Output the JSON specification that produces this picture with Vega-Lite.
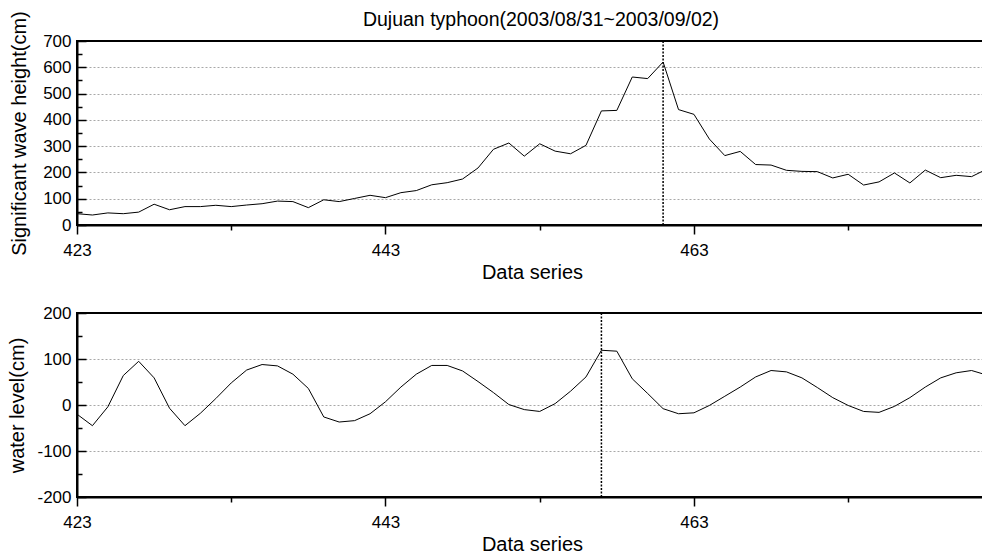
{
  "$schema": "https://vega.github.io/schema/vega-lite/v6.json",
  "padding": {"left": 6, "top": 9, "right": 0, "bottom": 0},
  "spacing": 20,
  "config": {
    "font": "Liberation Sans",
    "view": {"stroke": "black", "strokeWidth": 2},
    "axis": {
      "labelFont": "Liberation Sans", "titleFont": "Liberation Sans",
      "labelFontSize": 17, "titleFontSize": 20, "titleFontWeight": "normal",
      "labelColor": "black", "titleColor": "black",
      "domainColor": "black", "domainWidth": 2,
      "tickColor": "black", "tickWidth": 1.5,
      "labelOverlap": false, "labelFlush": false
    },
    "title": {"font": "Liberation Sans", "fontSize": 19.5, "fontWeight": "normal", "color": "black"}
  },
  "datasets": {
    "series": [
      {"x": 423, "wave": 43, "level": -20},
      {"x": 424, "wave": 38, "level": -45},
      {"x": 425, "wave": 46, "level": -4},
      {"x": 426, "wave": 43, "level": 64},
      {"x": 427, "wave": 49, "level": 95},
      {"x": 428, "wave": 79, "level": 59},
      {"x": 429, "wave": 58, "level": -7},
      {"x": 430, "wave": 70, "level": -45},
      {"x": 431, "wave": 70, "level": -18},
      {"x": 432, "wave": 75, "level": 14},
      {"x": 433, "wave": 70, "level": 48},
      {"x": 434, "wave": 76, "level": 76},
      {"x": 435, "wave": 81, "level": 88},
      {"x": 436, "wave": 91, "level": 85},
      {"x": 437, "wave": 89, "level": 67},
      {"x": 438, "wave": 66, "level": 36},
      {"x": 439, "wave": 96, "level": -26},
      {"x": 440, "wave": 89, "level": -37},
      {"x": 441, "wave": 101, "level": -34},
      {"x": 442, "wave": 113, "level": -19},
      {"x": 443, "wave": 104, "level": 7},
      {"x": 444, "wave": 123, "level": 39},
      {"x": 445, "wave": 131, "level": 67},
      {"x": 446, "wave": 153, "level": 86},
      {"x": 447, "wave": 161, "level": 86},
      {"x": 448, "wave": 175, "level": 74},
      {"x": 449, "wave": 217, "level": 51},
      {"x": 450, "wave": 288, "level": 27},
      {"x": 451, "wave": 312, "level": 1},
      {"x": 452, "wave": 262, "level": -10},
      {"x": 453, "wave": 309, "level": -14},
      {"x": 454, "wave": 281, "level": 3},
      {"x": 455, "wave": 271, "level": 30},
      {"x": 456, "wave": 303, "level": 61},
      {"x": 457, "wave": 434, "level": 119},
      {"x": 458, "wave": 436, "level": 117},
      {"x": 459, "wave": 563, "level": 57},
      {"x": 460, "wave": 557, "level": 25},
      {"x": 461, "wave": 620, "level": -8},
      {"x": 462, "wave": 439, "level": -19},
      {"x": 463, "wave": 421, "level": -17},
      {"x": 464, "wave": 327, "level": -1},
      {"x": 465, "wave": 264, "level": 19},
      {"x": 466, "wave": 280, "level": 39},
      {"x": 467, "wave": 230, "level": 61},
      {"x": 468, "wave": 228, "level": 75},
      {"x": 469, "wave": 208, "level": 72},
      {"x": 470, "wave": 204, "level": 59},
      {"x": 471, "wave": 203, "level": 38},
      {"x": 472, "wave": 179, "level": 16},
      {"x": 473, "wave": 193, "level": -1},
      {"x": 474, "wave": 152, "level": -14},
      {"x": 475, "wave": 164, "level": -16},
      {"x": 476, "wave": 198, "level": -3},
      {"x": 477, "wave": 160, "level": 16},
      {"x": 478, "wave": 209, "level": 39},
      {"x": 479, "wave": 180, "level": 59},
      {"x": 480, "wave": 189, "level": 70},
      {"x": 481, "wave": 184, "level": 75},
      {"x": 482, "wave": 213, "level": 65}
    ],
    "markers": [
      {"panel": "wave", "x": 461},
      {"panel": "level", "x": 457}
    ]
  },
  "vconcat": [
    {
      "title": {"text": "Dujuan typhoon(2003/08/31~2003/09/02)", "frame": "group", "offset": -20, "dx": 9},
      "width": 910,
      "height": 184,
      "layer": [
        {
          "data": {"name": "series"},
          "mark": {"type": "line", "color": "black", "strokeWidth": 1, "clip": true},
          "encoding": {
            "x": {
              "field": "x", "type": "quantitative",
              "scale": {"domain": [423, 482], "nice": false, "zero": false},
              "axis": {
                "title": "Data series",
                "values": [423, 433, 443, 453, 463, 473],
                "labelExpr": "(datum.value - 423) % 20 === 0 ? datum.label : ''",
                "tickSize": {"condition": {"test": "(datum.value - 423) % 20 === 0", "value": 9}, "value": 5},
                "labelPadding": 8,
                "titlePadding": 4,
                "grid": false
              }
            },
            "y": {
              "field": "wave", "type": "quantitative",
              "scale": {"domain": [0, 700], "nice": false},
              "axis": {
                "title": "Significant wave height(cm)",
                "values": [0, 50, 100, 150, 200, 250, 300, 350, 400, 450, 500, 550, 600, 650, 700],
                "labelExpr": "datum.value % 100 === 0 ? '' + datum.value : ''",
                "tickSize": {"condition": {"test": "datum.value % 100 === 0", "value": -9}, "value": -5},
                "labelPadding": 15,
                "titlePadding": 13,
                "grid": true,
                "gridColor": "#a8a8a8",
                "gridDash": [2, 2],
                "gridOpacity": {"condition": {"test": "datum.value % 100 === 0 && datum.value > 0 && datum.value < 700", "value": 1}, "value": 0}
              }
            }
          }
        },
        {
          "data": {"name": "markers"},
          "transform": [{"filter": "datum.panel === 'wave'"}],
          "mark": {"type": "rule", "color": "black", "strokeWidth": 1.5, "strokeDash": [2, 1.5]},
          "encoding": {"x": {"field": "x", "type": "quantitative"}}
        }
      ]
    },
    {
      "width": 910,
      "height": 184,
      "layer": [
        {
          "data": {"name": "series"},
          "mark": {"type": "line", "color": "black", "strokeWidth": 1, "clip": true},
          "encoding": {
            "x": {
              "field": "x", "type": "quantitative",
              "scale": {"domain": [423, 482], "nice": false, "zero": false},
              "axis": {
                "title": "Data series",
                "values": [423, 433, 443, 453, 463, 473],
                "labelExpr": "(datum.value - 423) % 20 === 0 ? datum.label : ''",
                "tickSize": {"condition": {"test": "(datum.value - 423) % 20 === 0", "value": 9}, "value": 5},
                "labelPadding": 8,
                "titlePadding": 4,
                "grid": false
              }
            },
            "y": {
              "field": "level", "type": "quantitative",
              "scale": {"domain": [-200, 200], "nice": false, "zero": false},
              "axis": {
                "title": "water level(cm)",
                "values": [-200, -150, -100, -50, 0, 50, 100, 150, 200],
                "labelExpr": "datum.value % 100 === 0 ? '' + datum.value : ''",
                "tickSize": {"condition": {"test": "datum.value % 100 === 0", "value": -9}, "value": -5},
                "labelPadding": 15,
                "titlePadding": 9,
                "grid": true,
                "gridColor": "#a8a8a8",
                "gridDash": [2, 2],
                "gridOpacity": {"condition": {"test": "datum.value % 100 === 0 && datum.value > -200 && datum.value < 200", "value": 1}, "value": 0}
              }
            }
          }
        },
        {
          "data": {"name": "markers"},
          "transform": [{"filter": "datum.panel === 'level'"}],
          "mark": {"type": "rule", "color": "black", "strokeWidth": 1.5, "strokeDash": [2, 1.5]},
          "encoding": {"x": {"field": "x", "type": "quantitative"}}
        }
      ]
    }
  ]
}
